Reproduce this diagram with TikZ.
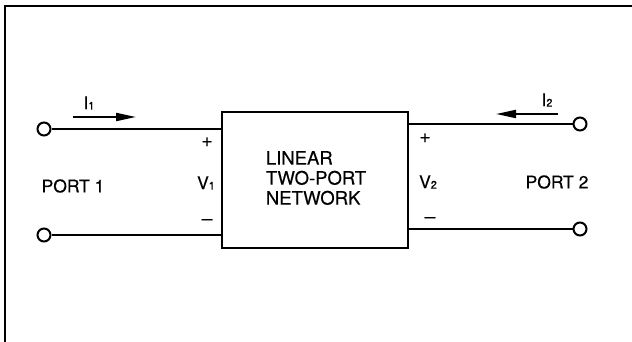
\documentclass[tikz,border=0pt]{standalone}
\usepackage{fontspec}
\setmainfont{TeX Gyre Heros}[FakeBold=0.3]
\usetikzlibrary{arrows.meta}
\newcommand{\sbs}[1]{\raisebox{-0.5pt}{\fontsize{11}{11}\selectfont #1}}
\begin{document}
\begin{tikzpicture}[x=1pt,y=-1pt,
  wire/.style={line width=2pt},
  term/.style={circle,draw,line width=2pt,fill=white,minimum size=13pt,inner sep=0pt},
  label/.style={font=\fontsize{17.5}{17.5}\selectfont,inner sep=0pt},
  sign/.style={font=\fontsize{19}{19}\selectfont,inner sep=0pt},
  current/.style={line width=2pt,-{Triangle[length=20pt,width=8pt]}}]
\useasboundingbox (0,0) rectangle (632,342);
% outer frame (top and left edges)
\draw[line width=2.4pt] (5,342) -- (5,6) -- (632,6);
% the network block
\node[draw,line width=2.2pt,minimum width=186pt,minimum height=136pt,inner sep=0pt] (net) at (315,180) {};
\node[align=left,font=\fontsize{18.5}{20}\selectfont,inner sep=0pt] (txt) at (316,178)
  {LINEAR\\TWO-PORT\\NETWORK};
% terminals
\node[term] (a1) at (44,129) {};
\node[term] (b1) at (44,235) {};
\node[term] (a2) at (580,124) {};
\node[term] (b2) at (580,229) {};
% port wires
\draw[wire] (a1) -- (net.west |- a1);
\draw[wire] (b1) -- (net.west |- b1);
\draw[wire] (a2) -- (net.east |- a2);
\draw[wire] (b2) -- (net.east |- b2);
% currents
\coordinate (i1s) at (73,117);
\coordinate (i1e) at (136,117);
\draw[current] (i1s) -- (i1e);
\node[label] (I1) at (89,103) {I\sbs{1}};
\coordinate (i2s) at (558,114);
\coordinate (i2e) at (496,114);
\draw[current] (i2s) -- (i2e);
\node[label] (I2) at (547,100) {I\sbs{2}};
% port voltages
\node[sign] (p1) at (207,142) {+};
\node[label] (V1) at (206,183) {V\sbs{1}};
\node[sign] (m1) at (207,222) {–};
\node[sign] (p2) at (425,138) {+};
\node[label] (V2) at (428,182) {V\sbs{2}};
\node[sign] (m2) at (430,220) {–};
% port names
\node[label] (P1) at (73,186) {PORT 1};
\node[label] (P2) at (557,182) {PORT 2};
\end{tikzpicture}
\end{document}
